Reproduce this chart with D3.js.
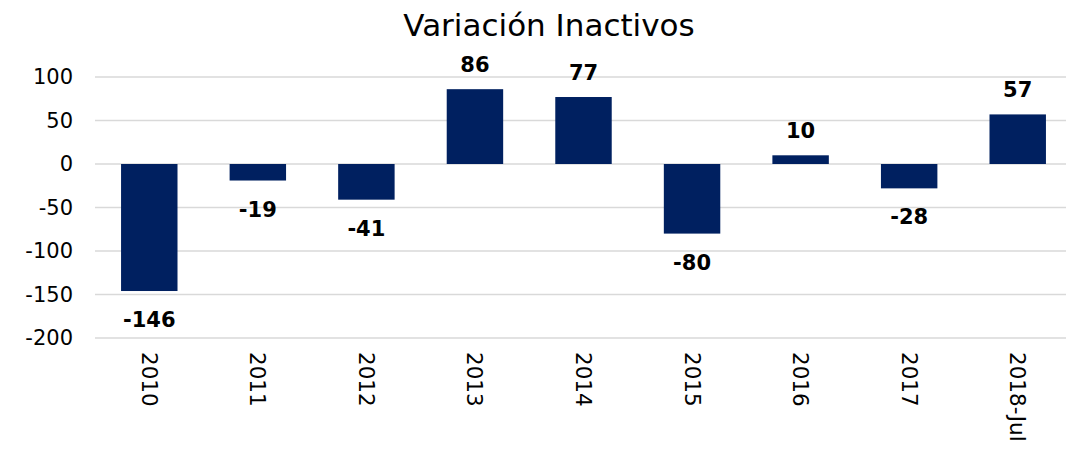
<!DOCTYPE html>
<html>
<head>
<meta charset="utf-8">
<script src="https://cdn.jsdelivr.net/npm/d3@7"></script>
<style>
  body { margin: 0; background: #fff; }
  svg text { font-family: "DejaVu Sans", "Open Sans", sans-serif; }
</style>
</head>
<body>
<div class="chart"></div>
<script>
var categories = ["2010", "2011", "2012", "2013", "2014", "2015", "2016", "2017", "2018-Jul"];
var values = [-146, -19, -41, 86, 77, -80, 10, -28, 57];
var yTicks = [100, 50, 0, -50, -100, -150, -200];

var width = 1066, height = 450;
var margin = { top: 77, right: -6, bottom: 112, left: 95 };

var svg = d3.select(".chart")
  .append("svg")
    .attr("width", width)
    .attr("height", height);

var x = d3.scaleBand()
  .domain(categories)
  .range([margin.left, width - margin.right])
  .paddingInner(0.48)
  .paddingOuter(0.24);

var y = d3.scaleLinear()
  .domain([-200, 100])
  .range([height - margin.bottom, margin.top]);

// gridlines
svg.append("g")
  .selectAll("line")
  .data(yTicks)
  .enter().append("line")
    .attr("x1", margin.left)
    .attr("x2", width)
    .attr("y1", function(d) { return y(d); })
    .attr("y2", function(d) { return y(d); })
    .attr("stroke", "#d9d9d9")
    .attr("stroke-width", 1.5);

// y axis labels (plain hyphen for negatives)
var yAxis = svg.append("g")
  .attr("transform", "translate(" + (margin.left - 22) + ",0)")
  .call(d3.axisLeft(y).tickValues(yTicks).tickSize(0).tickPadding(0)
    .tickFormat(function(d) { return String(d); }));
yAxis.select(".domain").remove();
yAxis.selectAll("text")
  .attr("font-size", 21)
  .attr("fill", "#000")
  .style("font-family", "'DejaVu Sans', sans-serif");

// bars
svg.selectAll(".bar")
  .data(values)
  .enter().append("rect")
    .attr("class", "bar")
    .attr("x", function(d, i) { return x(categories[i]); })
    .attr("width", x.bandwidth())
    .attr("y", function(d) { return y(Math.max(0, d)); })
    .attr("height", function(d) { return Math.abs(y(d) - y(0)); })
    .attr("fill", "#002060");

// value labels
svg.selectAll(".lbl")
  .data(values)
  .enter().append("text")
    .attr("class", "lbl")
    .attr("x", function(d, i) { return x(categories[i]) + x.bandwidth() / 2; })
    .attr("y", function(d) { return d >= 0 ? y(d) - 17 : y(d) + 36; })
    .attr("text-anchor", "middle")
    .attr("font-size", 21)
    .attr("font-weight", "bold")
    .attr("fill", "#000")
    .text(function(d) { return d; });

// x axis labels (rotated)
var xAxis = svg.append("g")
  .attr("transform", "translate(0," + (y(-200) + 14) + ")")
  .call(d3.axisBottom(x).tickSize(0).tickPadding(0));
xAxis.select(".domain").remove();
xAxis.selectAll("text")
  .attr("font-size", 21.5)
  .attr("fill", "#000")
  .attr("dy", null)
  .attr("y", 0)
  .attr("x", 0)
  .attr("transform", "rotate(90)")
  .attr("dominant-baseline", "central")
  .style("text-anchor", "start")
  .style("font-family", "'DejaVu Sans', sans-serif");

// title
svg.append("text")
  .attr("x", 549)
  .attr("y", 36)
  .attr("text-anchor", "middle")
  .attr("font-size", 31)
  .attr("fill", "#000")
  .text("Variación Inactivos");
</script>
</body>
</html>
